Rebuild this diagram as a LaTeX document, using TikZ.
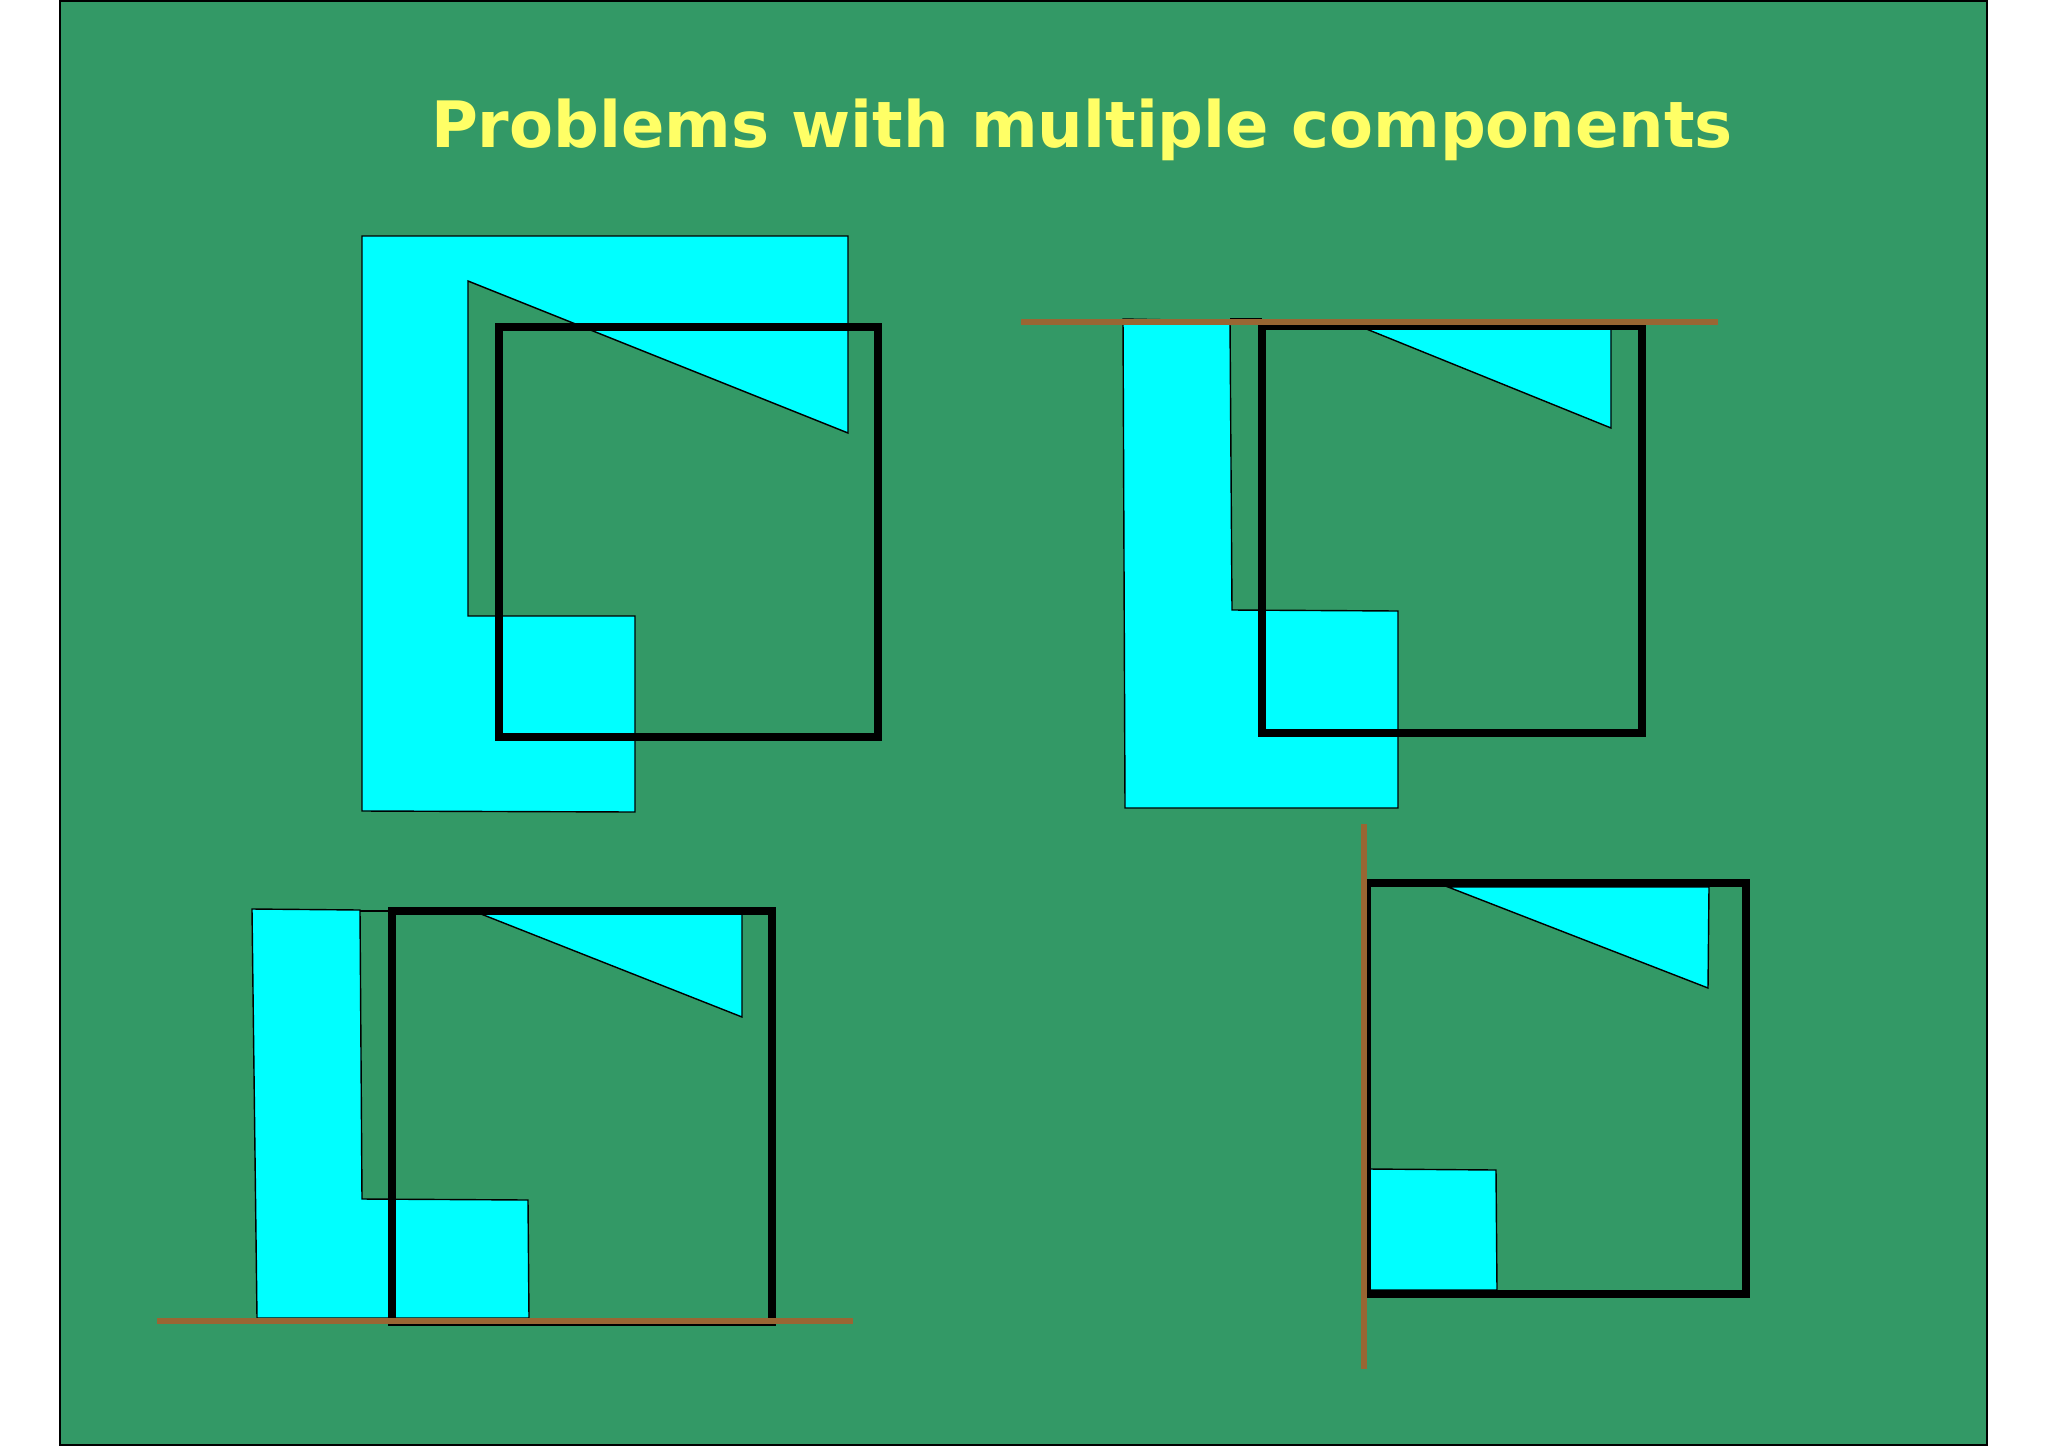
\documentclass[tikz,border=0pt]{standalone}
\usepackage{fontspec}
\setmainfont{DejaVu Sans}
\usetikzlibrary{calc}
\definecolor{slidegreen}{HTML}{339966}
\definecolor{titleyellow}{HTML}{FFFF66}
\definecolor{floorbrown}{HTML}{996633}
\definecolor{partcyan}{HTML}{00FFFF}
\begin{document}
\begin{tikzpicture}[x=0.01cm,y=-0.01cm,line join=miter,
    part/.style={fill=partcyan,draw=black,line width=0.4pt},
    hull/.style={draw=black,line width=2.4pt},
    support/.style={draw=floorbrown,line width=1.6pt}]
    \useasboundingbox (0,0) rectangle (2048,1448);
    \draw[fill=slidegreen,line width=0.6pt](60,1) rectangle (1987,1445);
    \node[anchor=base,text=titleyellow,font=\fontsize{18.2}{22}\selectfont\bfseries] (title) at (1082,147) {Problems with multiple components};
    \begin{scope}[shift={(0,0)}]
      \draw[part](362,236)--(848,236)--(848,433)--(468,281)--(468,616)--(635,616)--(635,812)--(362,811)--cycle;
      \draw[hull](499,327) rectangle (878,737);
    \end{scope}
    \begin{scope}[shift={(0,0)}]
      \draw[part](1123,319)--(1230,321)--(1232,610)--(1398,611)--(1398,808)--(1125,808)--cycle;
      \draw[line width=0.4pt](1230,319)--(1262,319);
      \draw[part](1359,326)--(1611,326)--(1611,428)--cycle;
      \draw[hull](1262,326) rectangle (1642,733);
      \draw[support](1021,322)--(1718,322);
    \end{scope}
    \begin{scope}[shift={(0,0)}]
      \draw[part](252,909)--(360,910)--(362,1199)--(528,1200)--(529,1318)--(257,1318)--cycle;
      \draw[line width=0.4pt](360,911)--(392,911);
      \draw[part](481,914)--(742,914)--(742,1017)--cycle;
      \draw[hull](392,911) rectangle (772,1322);
      \draw[support](157,1321)--(853,1321);
    \end{scope}
    \begin{scope}[shift={(0,0)}]
      \draw[part](1448,887)--(1709,887)--(1708,988)--cycle;
      \draw[part](1369,1169)--(1496,1170)--(1497,1290)--(1369,1290)--cycle;
      \draw[hull](1367,883) rectangle (1746,1294);
      \draw[support](1364,824)--(1364,1369);
    \end{scope}
  \end{tikzpicture}
\end{document}
